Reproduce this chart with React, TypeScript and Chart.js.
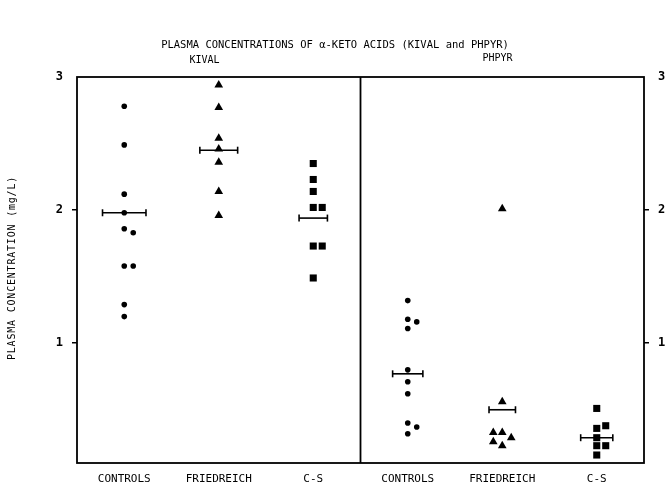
import React, { useEffect, useRef } from "react";
import { Chart, registerables } from "chart.js";

Chart.register(...registerables);

// ---- data ----
const panels = ["KIVAL", "PHPYR"];
const categories = ["CONTROLS", "FRIEDREICH", "C-S"];
const yTickValues = [1, 2, 3];

// KIVAL (mg/L)
const kivalControls = [2.78, 2.49, 2.12, 1.98, 1.86, 1.83, 1.58, 1.58, 1.29, 1.2];
const kivalControlsSlot = [0, 0, 0, 0, 0, 1, 0, 1, 0, 0];
const kivalFriedreich = [2.94, 2.77, 2.54, 2.46, 2.36, 2.14, 1.96];
const kivalFriedreichSlot = [0, 0, 0, 0, 0, 0, 0];
const kivalCS = [2.35, 2.23, 2.14, 2.02, 2.02, 1.73, 1.73, 1.49];
const kivalCSSlot = [0, 0, 0, 0, 1, 0, 1, 0];
const kivalMeans = [1.98, 2.45, 1.94];

// PHPYR (mg/L)
const phpyrControls = [1.32, 1.18, 1.16, 1.11, 0.8, 0.71, 0.62, 0.4, 0.37, 0.32];
const phpyrControlsSlot = [0, 0, 1, 0, 0, 0, 0, 0, 1, 0];
const phpyrFriedreich = [2.01, 0.56, 0.33, 0.33, 0.29, 0.26, 0.23];
const phpyrFriedreichSlot = [0, 0, -1, 0, 1, -1, 0];
const phpyrCS = [0.51, 0.38, 0.36, 0.29, 0.23, 0.23, 0.16];
const phpyrCSSlot = [0, 1, 0, 0, 0, 1, 0];
const phpyrMeans = [0.77, 0.5, 0.29];

// ---- styling ----
const SLOT_W = 0.095;
const meanBarHalf = [0.23, 0.2, 0.15, 0.16, 0.14, 0.17];
const FONT = "'DejaVu Sans Mono', 'Liberation Mono', monospace";

export default function App() {
  const ref = useRef<HTMLCanvasElement | null>(null);

  useEffect(() => {
    const canvas = ref.current;
    if (!canvas) return;

    const groups = [
      { values: kivalControls, slots: kivalControlsSlot, style: "circle", r: 2.8 },
      { values: kivalFriedreich, slots: kivalFriedreichSlot, style: "triangle", r: 5 },
      { values: kivalCS, slots: kivalCSSlot, style: "rect", r: 5 },
      { values: phpyrControls, slots: phpyrControlsSlot, style: "circle", r: 2.8 },
      { values: phpyrFriedreich, slots: phpyrFriedreichSlot, style: "triangle", r: 5 },
      { values: phpyrCS, slots: phpyrCSSlot, style: "rect", r: 5 },
    ];
    const means = [...kivalMeans, ...phpyrMeans];

    const pointSets: any[] = groups.map((g, i) => ({
      type: "scatter",
      data: g.values.map((v, j) => ({ x: i + 0.5 + g.slots[j] * SLOT_W, y: v })),
      pointStyle: g.style,
      pointRadius: g.r,
      pointBackgroundColor: "#000",
      pointBorderColor: "#000",
      pointBorderWidth: 0,
      showLine: false,
    }));

    const meanSets: any[] = means.map((m, i) => ({
      type: "scatter",
      data: [
        { x: i + 0.5 - meanBarHalf[i], y: m },
        { x: i + 0.5 + meanBarHalf[i], y: m },
      ],
      showLine: true,
      borderColor: "#000",
      borderWidth: 1.6,
      pointStyle: "line",
      rotation: 90,
      pointRadius: 3.5,
      pointBorderColor: "#000",
      pointBorderWidth: 1.6,
    }));

    const textPlugin = {
      id: "texts",
      afterDraw(chart: any) {
        const ctx = chart.ctx;
        const { left, right, top, bottom } = chart.chartArea;
        const xs = chart.scales.x;
        ctx.save();
        // frame
        ctx.strokeStyle = "#000";
        ctx.lineWidth = 1.8;
        ctx.strokeRect(left, top, right - left, bottom - top);
        const mid = xs.getPixelForValue(3);
        ctx.beginPath();
        ctx.moveTo(mid, top);
        ctx.lineTo(mid, bottom);
        ctx.stroke();
        // title
        ctx.fillStyle = "#000";
        ctx.textAlign = "center";
        ctx.textBaseline = "middle";
        ctx.font = `10.5px ${FONT}`;
        ctx.fillText("PLASMA CONCENTRATIONS OF \u03b1-KETO ACIDS (KIVAL and PHPYR)", 335, 45);
        // panel labels
        ctx.font = `10px ${FONT}`;
        ctx.fillText(panels[0], xs.getPixelForValue(1.35), 60);
        ctx.fillText(panels[1], xs.getPixelForValue(4.45), 58);
        // y title
        ctx.translate(12, 268);
        ctx.rotate(-Math.PI / 2);
        ctx.font = `10px ${FONT}`;
        try { (ctx as any).letterSpacing = "0.8px"; } catch (e) {}
        ctx.fillText("PLASMA CONCENTRATION (mg/L)", 0, 0);
        ctx.restore();
      },
    };

    const yCommon = (position: string, width: number) => ({
      type: "linear",
      position,
      min: 0.1,
      max: 3,
      afterBuildTicks: (scale: any) => {
        scale.ticks = yTickValues.map((v) => ({ value: v }));
      },
      afterFit: (scale: any) => {
        scale.width = width;
      },
      border: { display: false },
      grid: {
        display: true,
        drawOnChartArea: false,
        drawTicks: true,
        tickLength: 5,
        lineWidth: 1.5,
        color: (c: any) => (c.tick && c.tick.value === 3 ? "rgba(0,0,0,0)" : "#000"),
      },
      ticks: {
        padding: 9,
        color: "#000",
        font: { family: FONT, size: 12, weight: "bold" },
        callback: (v: any) => String(v),
      },
    });

    const chart = new Chart(canvas, {
      type: "scatter",
      data: { datasets: [...pointSets, ...meanSets] },
      plugins: [textPlugin],
      options: {
        responsive: false,
        animation: false,
        devicePixelRatio: 1,
        layout: { padding: { top: 77, left: 0, right: 0, bottom: 0 } },
        plugins: {
          legend: { display: false },
          tooltip: { enabled: false },
          title: { display: false },
        },
        scales: {
          x: {
            type: "linear",
            min: 0,
            max: 6,
            afterBuildTicks: (scale: any) => {
              scale.ticks = [0, 1, 2, 3, 4, 5].map((i) => ({ value: i + 0.5 }));
            },
            afterFit: (scale: any) => {
              scale.height = 27;
            },
            border: { display: false },
            grid: { display: false },
            ticks: {
              padding: 2,
              color: "#000",
              maxRotation: 0,
              autoSkip: false,
              font: { family: FONT, size: 11 },
              callback: (v: any) => categories[Math.floor(Number(v)) % 3],
            },
          },
          y: yCommon("left", 77) as any,
          y2: yCommon("right", 26) as any,
        },
      } as any,
    });

    return () => chart.destroy();
  }, []);

  return (
    <div style={{ position: "absolute", left: 0, top: 0, width: 670, height: 490, background: "#fff" }}>
      <canvas ref={ref} width={670} height={490} style={{ display: "block", width: 670, height: 490 }} />
    </div>
  );
}
